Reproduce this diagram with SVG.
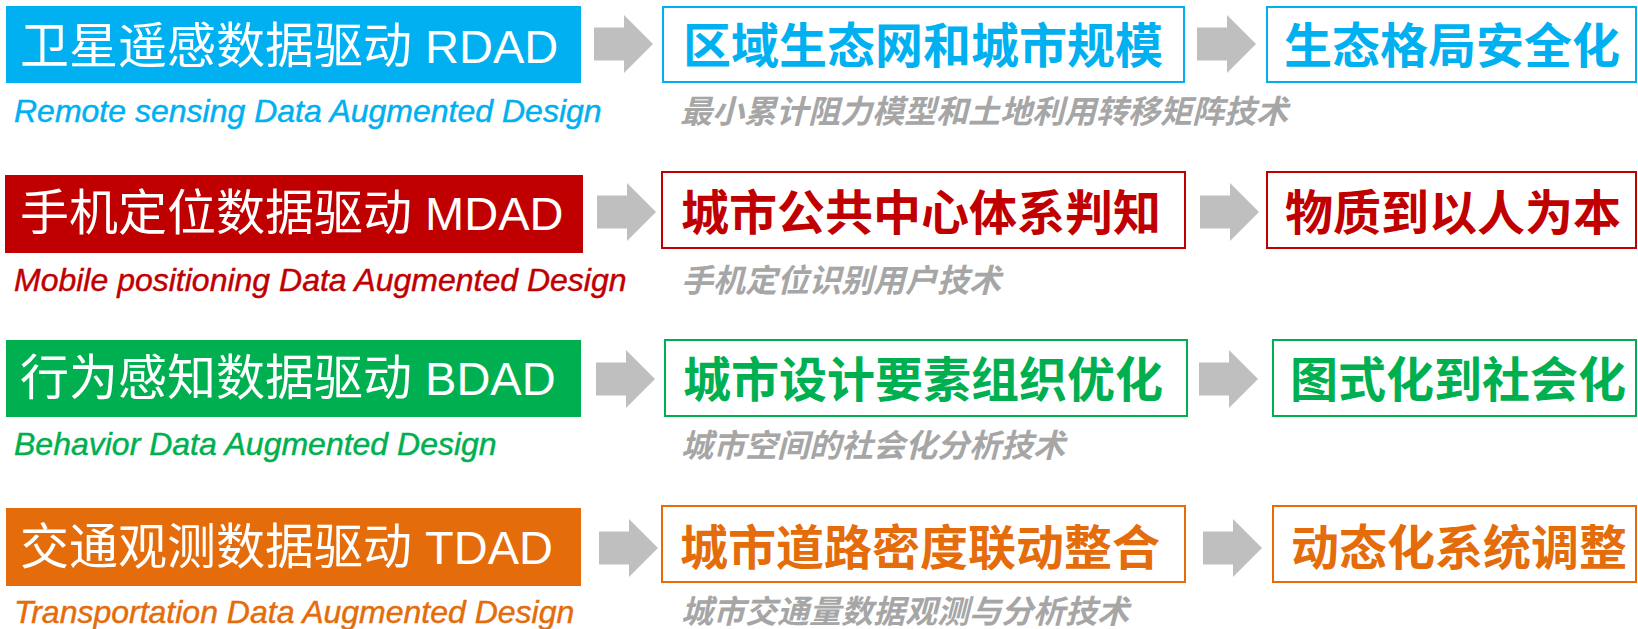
<svg xmlns="http://www.w3.org/2000/svg" width="1638" height="629" viewBox="0 0 1638 629">
<style>
.ttl{font-family:"Liberation Sans","Noto Sans CJK SC",sans-serif;font-size:49px;fill:#fff}
.ttl tspan{font-size:47px}
.sub{font-family:"Liberation Sans","Noto Sans CJK SC",sans-serif;font-size:32px;font-style:italic;stroke-width:0.45}
.bx{fill:#fff;stroke-width:2}
.bt{font-family:"Noto Sans CJK SC",sans-serif;font-size:48px;font-weight:700;text-anchor:middle}
.cap{font-family:"Noto Sans CJK SC",sans-serif;font-size:32px;font-weight:700;font-style:italic;fill:#A6A6A6}
.blue{fill:#00B0F0}.red{fill:#C00000}.green{fill:#00B050}.orange{fill:#E46C0A}
.sblue{stroke:#00B0F0}.sred{stroke:#C00000}.sgreen{stroke:#00B050}.sorange{stroke:#E46C0A}
.arr{fill:#BFBFBF}
</style>
<defs>
<path id="arrow" d="M0,-16.5 H30 V-29 L59,0 L30,29 V16.5 H0 Z"/>
</defs>
<rect width="1638" height="629" fill="#fff"/>

<g id="connectors" class="arr">
<use href="#arrow" x="594" y="44"/>
<use href="#arrow" x="1197" y="44"/>
<use href="#arrow" x="597" y="212"/>
<use href="#arrow" x="1200" y="212"/>
<use href="#arrow" x="596" y="379"/>
<use href="#arrow" x="1199" y="379"/>
<use href="#arrow" x="599" y="548"/>
<use href="#arrow" x="1203" y="548"/>
</g>

<g id="rdad">
<rect class="blue" x="6" y="6" width="575" height="77"/>
<text class="ttl" x="20" y="63">卫星遥感数据驱动<tspan> RDAD</tspan></text>
<text class="sub blue sblue" x="14" y="122">Remote sensing Data Augmented Design</text>
</g>
<g id="rdad-mid">
<rect class="bx sblue" x="663" y="7" width="521" height="75"/>
<text class="bt blue" x="923" y="63">区域生态网和城市规模</text>
<text class="cap" x="680" y="123">最小累计阻力模型和土地利用转移矩阵技术</text>
</g>
<g id="rdad-out">
<rect class="bx sblue" x="1267" y="7" width="369" height="75"/>
<text class="bt blue" x="1452" y="63">生态格局安全化</text>
</g>

<g id="mdad">
<rect class="red" x="5" y="175" width="578" height="78"/>
<text class="ttl" x="20" y="230">手机定位数据驱动<tspan> MDAD</tspan></text>
<text class="sub red sred" x="14" y="291">Mobile positioning Data Augmented Design</text>
</g>
<g id="mdad-mid">
<rect class="bx sred" x="662" y="172" width="523" height="76"/>
<text class="bt red" x="921" y="230">城市公共中心体系判知</text>
<text class="cap" x="681" y="292">手机定位识别用户技术</text>
</g>
<g id="mdad-out">
<rect class="bx sred" x="1267" y="172" width="369" height="76"/>
<text class="bt red" x="1453" y="230">物质到以人为本</text>
</g>

<g id="bdad">
<rect class="green" x="6" y="340" width="575" height="77"/>
<text class="ttl" x="20" y="395">行为感知数据驱动<tspan> BDAD</tspan></text>
<text class="sub green sgreen" x="14" y="455">Behavior Data Augmented Design</text>
</g>
<g id="bdad-mid">
<rect class="bx sgreen" x="665" y="340" width="522" height="76"/>
<text class="bt green" x="923" y="397">城市设计要素组织优化</text>
<text class="cap" x="681" y="457">城市空间的社会化分析技术</text>
</g>
<g id="bdad-out">
<rect class="bx sgreen" x="1273" y="340" width="363" height="76"/>
<text class="bt green" x="1458" y="397">图式化到社会化</text>
</g>

<g id="tdad">
<rect class="orange" x="6" y="508" width="575" height="78"/>
<text class="ttl" x="20" y="564">交通观测数据驱动<tspan> TDAD</tspan></text>
<text class="sub orange sorange" x="14" y="623">Transportation Data Augmented Design</text>
</g>
<g id="tdad-mid">
<rect class="bx sorange" x="662" y="506" width="523" height="76"/>
<text class="bt orange" x="920" y="565">城市道路密度联动整合</text>
<text class="cap" x="681" y="623">城市交通量数据观测与分析技术</text>
</g>
<g id="tdad-out">
<rect class="bx sorange" x="1273" y="506" width="363" height="76"/>
<text class="bt orange" x="1459" y="565">动态化系统调整</text>
</g>
</svg>
